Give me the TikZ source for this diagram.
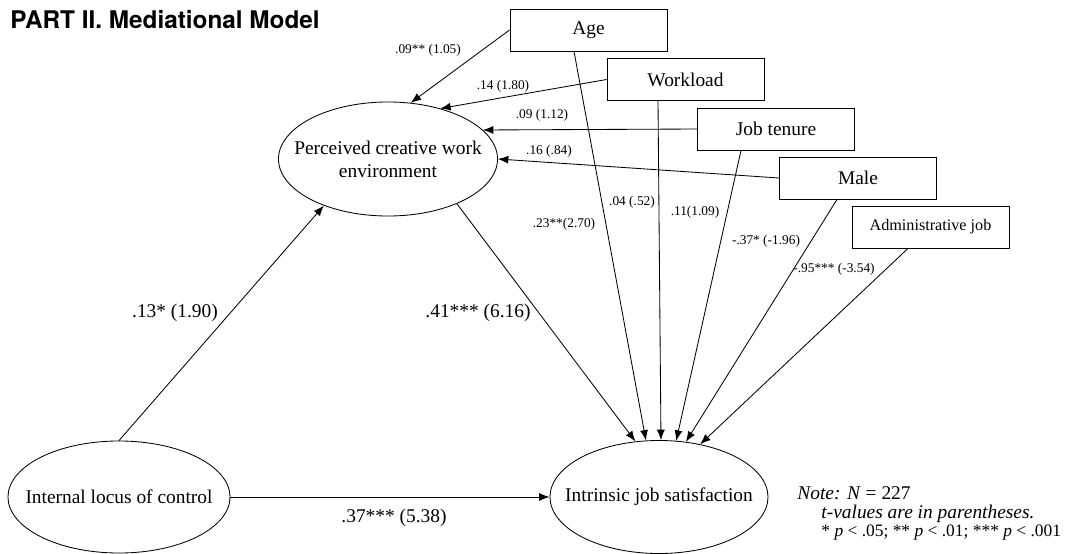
\documentclass[tikz,border=0pt]{standalone}
\usepackage{fontspec}
\setmainfont{Liberation Serif}
\newfontfamily\headfont{TeX Gyre Heros}
\usetikzlibrary{arrows.meta,calc,shapes.geometric}

\begin{document}
\begin{tikzpicture}[x=0.025cm, y=-0.025cm, line width=0.6pt,
  every node/.style={font=\fontsize{13.8}{16.4}\selectfont},
  var/.style={draw, rectangle, minimum width=3.925cm, minimum height=1.05cm, inner sep=0pt},
  latent/.style={draw, ellipse, inner sep=0pt},
  coef/.style={font=\fontsize{9.5}{10}\selectfont, inner sep=1pt},
  bigcoef/.style={font=\fontsize{13.8}{16}\selectfont, inner sep=1pt},
  effect/.style={-{Latex[length=2.6mm, width=2mm]}}]
  \useasboundingbox (0,0) rectangle (1073,553);
  \node[anchor=base west, inner sep=0pt, font=\headfont\bfseries\fontsize{17.3}{20}\selectfont] (title) at (10,28) {PART II. Mediational Model};

  % latent variables
  \node[latent, minimum width=5.475cm, minimum height=2.85cm,
    label={[align=center]center:Perceived creative work\\environment}] (perc) at (388,159) {};
  \node[latent, minimum width=5.55cm, minimum height=2.8cm,
    label=center:Internal locus of control] (locus) at (119,497) {};
  \node[latent, minimum width=5.45cm, minimum height=2.825cm,
    label=center:Intrinsic job satisfaction] (sat) at (659,497) {};

  % controls
  \node[var] (age) at (588.5,30) {Age};
  \node[var] (work) at (685.5,79.5) {Workload};
  \node[var] (tenure) at (776,129) {Job tenure};
  \node[var] (male) at (858,178) {Male};
  \node[var, font=\fontsize{11.5}{14}\selectfont] (admin) at (930.5,227) {Administrative job};

  % paths into the mediator
  \draw[effect] (age.west) -- (perc.68);
  \draw[effect] (work.west) -- (perc.44);
  \draw[effect] (tenure.west) -- (perc.17);
  \draw[effect] (male.west) -- (perc.east);
  \draw[effect] (locus.north) -- (perc.-144);

  % paths into the outcome
  \draw[effect] (perc.-33) -- (sat.113);
  \draw[effect] ($(age.south)+(-14.5,0)$) -- (sat.103);
  \draw[effect] ($(work.south)+(-27.5,0)$) -- (sat.88);
  \draw[effect] ($(tenure.south)+(-35,0)$) -- (sat.73);
  \draw[effect] ($(male.south)+(-21,0)$) -- (sat.64);
  \draw[effect] ($(admin.south)+(-22.5,0)$) -- (sat.52);
  \draw[effect] (locus.east) -- (sat.west);

  % coefficients
  \node[coef] (bAgeP) at (428,50) {.09** (1.05)};
  \node[coef] (bWorkP) at (503,86) {.14 (1.80)};
  \node[coef] (bTenP) at (542,115) {.09 (1.12)};
  \node[coef] (bMaleP) at (549,151) {.16 (.84)};
  \node[coef] (bAgeS) at (564,224) {.23**(2.70)};
  \node[coef] (bWorkS) at (632,202) {.04 (.52)};
  \node[coef] (bTenS) at (695,212) {.11(1.09)};
  \node[coef] (bMaleS) at (766,241) {-.37* (-1.96)};
  \node[coef] (bAdmS) at (834,269) {-.95*** (-3.54)};
  \node[bigcoef] (bLocP) at (175,313) {.13* (1.90)};
  \node[bigcoef] (bPerS) at (478,313) {.41*** (6.16)};
  \node[bigcoef] (bLocS) at (394,518) {.37*** (5.38)};

  % note
  \node[anchor=west, inner sep=0pt] (note1) at (797,493) {\textit{Note: N} = 227};
  \node[anchor=west, inner sep=0pt] (note2) at (821,514) {\textit{t-values are in parentheses.}};
  \node[anchor=west, inner sep=0pt, font=\fontsize{12.4}{14}\selectfont] (note3) at (821,533) {* \textit{p} < .05; ** \textit{p} < .01; *** \textit{p} < .001};
\end{tikzpicture}
\end{document}
